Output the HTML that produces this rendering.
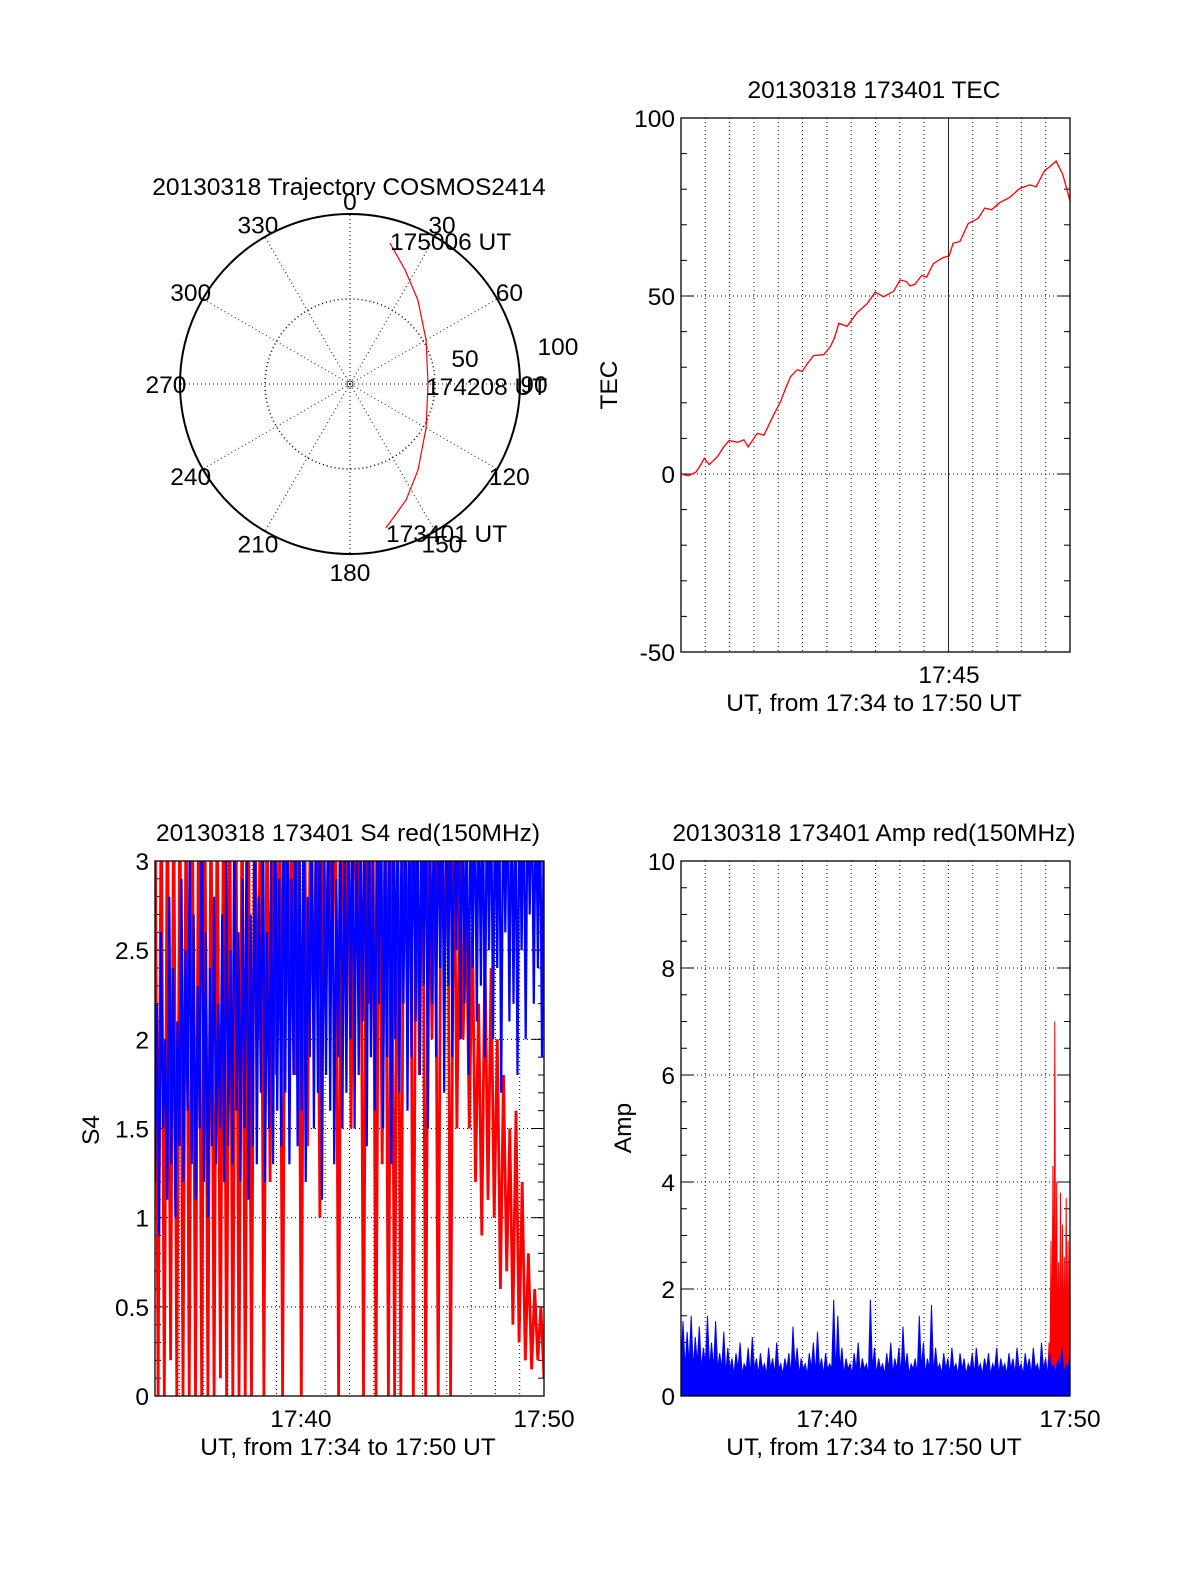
<!DOCTYPE html>
<html><head><meta charset="utf-8"><style>
html,body{margin:0;padding:0;background:#fff}
svg{display:block;font-family:"Liberation Sans",Arial,sans-serif}
</style></head><body>
<svg id="fig" width="1200" height="1575" viewBox="0 0 1200 1575" xmlns="http://www.w3.org/2000/svg"></svg>
<script>
// ---------- DATA ----------
const trajAz = [15.8, 25.8, 39, 60, 90, 120, 141.7, 154.2, 166];
const trajR  = [86.2, 74.5, 63.5, 51.7, 45.9, 51.7, 64.5, 75.8, 87.3];
const polarAngleLabels = [0,30,60,90,120,150,180,210,240,270,300,330];

const tecTime = [0,0.3,0.61,0.8,0.96,1.16,1.5,1.75,1.98,2.32,2.59,2.76,3.14,3.41,3.55,3.8,4.1,4.3,4.5,4.78,4.98,5.2,5.46,5.87,6.14,6.3,6.49,6.83,7.24,7.65,7.99,8.33,8.74,9.01,9.26,9.42,9.62,9.9,10.1,10.38,10.78,11.03,11.19,11.47,11.81,12.22,12.49,12.77,13.11,13.52,13.93,14.34,14.61,14.95,15.2,15.43,15.7,16];
const tecVal  = [0,-0.5,0.5,2.5,4.4,2.6,4.9,7.5,9.4,8.9,9.6,7.6,11.4,10.9,12.9,16.5,20.4,24,27.3,29.3,28.8,31,33.3,33.5,35.8,38,42.3,41.5,45.3,47.8,51.1,49.8,51.3,54.5,54.1,52.8,53.3,55.8,55.3,59.1,60.8,61.3,64.8,65.3,70.3,71.8,74.7,74.2,76.2,77.7,80.2,81.2,80.7,85.2,86.5,87.9,84.2,76.7];
const tecTicks = [-50,0,50,100];

const s4Red = [3.5,0,3.5,0,3.5,0.2,3.5,0,3.5,0,3.5,0,3.5,0,3.5,0,3.5,0,3.5,0,3.5,0.1,3.5,0,3.5,0,3.5,0,
 3.5,0,3.5,0,3.5,2.0,3.5,0,3.5,1.2,3.5,1.8,3.5,0,3.5,2.2,3.5,1.8,3.5,0,3.5,1.4,3.5,2.0,3.5,1.0,3.5,2.3,
 3.5,2.5,3.5,0,3.5,2.4,3.5,1.5,3.5,2.6,3.5,0,3.5,2.2,3.5,0,3.5,1.3,3.5,0,3.5,0,3.5,0,3.5,2.3,3.5,0,3.5,1.8,3.5,0,3.5,2.0,
 3.5,0,3.5,2.4,3.5,0,3.5,1.5,3.0,2.0,2.8,1.5,2.6,1.2,2.2,0.9,2.5,1.1,2.4,1.0,2.0,0.6,1.8,0.7,1.5,0.4,1.6,0.3,1.2,0.2,0.8,0.15,0.6,0.2,0.5,0.1];
const s4Blue = [1.2,2.2,0.9,2.6,1.5,2.0,1.1,2.8,1.3,2.4,1.0,2.1,1.4,2.9,1.2,2.5,1.6,3.0,1.3,2.7,1.1,2.3,1.5,3.5,1.2,2.6,1.0,2.4,1.4,2.8,1.3,2.2,
 1.5,2.7,1.2,3.0,1.4,2.5,1.3,3.5,1.6,2.6,1.2,2.9,1.5,3.2,1.1,2.7,1.4,3.5,1.3,2.8,1.7,3.5,1.2,2.6,1.5,3.0,1.3,3.5,1.6,2.9,1.4,3.5,
 1.7,3.5,1.3,2.9,1.8,3.5,1.4,3.1,1.6,3.5,1.2,2.8,1.9,3.5,1.5,3.3,1.7,3.5,1.1,3.0,1.8,3.5,1.6,3.5,1.3,2.9,1.9,3.5,1.5,3.2,1.7,3.5,
 2.0,3.5,1.5,3.5,1.8,3.2,2.1,3.5,1.4,3.5,1.9,3.0,1.6,3.5,2.2,3.5,1.5,3.3,1.9,3.5,1.3,3.5,2.0,3.5,1.7,3.1,2.2,3.5,1.6,3.5,1.9,3.5,
 2.1,3.5,1.8,3.5,2.3,3.5,1.5,3.4,2.2,3.5,1.9,3.5,2.4,3.5,1.7,3.5,2.3,3.5,1.9,3.5,2.5,3.5,2.0,3.5,2.2,3.5,1.8,3.5,2.4,3.5,2.1,3.5,
 2.3,3.5,1.9,3.5,2.5,3.5,2.0,3.5,2.4,3.5,1.7,3.5,2.6,3.5,2.1,3.5,2.2,3.5,1.8,3.5,2.5,3.5,2.0,3.5,2.7,3.5,2.2,3.5,2.4,3.5,1.9,3.5];
const s4Ticks = [0,0.5,1,1.5,2,2.5,3];

const ampBlue = [0.6,1.4,0.5,1.2,0.6,1.5,0.5,1.1,0.6,1.3,0.5,0.9,0.6,1.5,0.5,1.0,0.5,1.4,0.5,0.8,0.5,1.2,0.4,0.9,0.5,0.7,0.4,0.8,0.5,1.0,0.4,0.6,
 0.5,0.9,0.4,1.1,0.5,0.7,0.4,0.8,0.5,0.6,0.4,0.9,0.5,0.7,0.4,1.0,0.5,0.6,0.4,0.7,0.5,0.8,0.4,1.3,0.5,0.9,0.4,0.7,0.5,0.6,0.4,0.8,
 0.5,1.0,0.4,1.2,0.5,0.7,0.4,0.8,0.5,0.6,0.5,1.8,0.4,1.5,0.5,0.9,0.4,0.7,0.5,0.6,0.4,0.8,0.5,1.0,0.4,0.7,0.5,0.6,0.4,1.8,0.5,0.9,
 0.4,0.7,0.5,0.6,0.4,0.8,0.5,1.0,0.4,0.7,0.5,0.9,0.4,1.3,0.5,0.8,0.4,0.6,0.5,0.7,0.4,1.5,0.5,1.0,0.4,0.7,0.5,1.7,0.4,0.9,0.5,0.6,
 0.4,0.8,0.5,0.7,0.4,0.9,0.5,0.6,0.4,0.8,0.5,0.7,0.4,0.6,0.5,0.8,0.4,0.9,0.5,0.6,0.4,0.7,0.5,0.8,0.4,0.6,0.5,0.9,0.4,0.7,0.5,0.6,
 0.4,0.8,0.5,0.7,0.4,0.9,0.5,0.6,0.4,0.8,0.5,0.7,0.4,0.9,0.5,0.6,0.4,1.0,0.5,0.7,0.4,0.8,0.5,0.6,0.4,0.7,0.5,0.9,0.4,0.6,0.5,0.8];
const ampRed = [0.6,1.0,0.5,2.9,0.6,4.3,0.8,7.0,0.5,4.0,0.9,2.5,0.6,3.8,0.5,3.2,1.0,2.6,0.6,3.7,0.8,2.9,0.5,3.2];
const ampRedStart = 15.1, ampRedEnd = 16;
const ampTicks = [0,2,4,6,8,10];

// ---------- DRAW ----------
const FS = 24.5;
const NS = "http://www.w3.org/2000/svg";
const svg = document.getElementById('fig');
function el(tag, attrs, parent){
  const e = document.createElementNS(NS, tag);
  for (const k in attrs) e.setAttribute(k, attrs[k]);
  (parent||svg).appendChild(e); return e;
}
function txt(x,y,s,size,anchor,parent){
  const t = el('text',{x:x,y:y,'font-size':size,'text-anchor':anchor||'middle',fill:'#000'},parent);
  t.textContent = s; return t;
}

function panel(name, L, R, T, B, ymin, ymax, yticks, minorStep){
  const g = el('g',{});
  
  
  const xs = t => L + (t/16)*(R-L);
  const ys = v => B - (v-ymin)/(ymax-ymin)*(B-T);
  for (let m=1;m<16;m++){
    const l = el('line',{x1:xs(m),x2:xs(m),y1:T,y2:B,stroke:'#000','stroke-width':1,'stroke-dasharray':'1,3'},g);
    
    
  }
  yticks.forEach(v=>{
    if (v===ymin||v===ymax) return;
    const l = el('line',{x1:L,x2:R,y1:ys(v),y2:ys(v),stroke:'#000','stroke-width':1,'stroke-dasharray':'1,3'},g);
    
    
  });
  for (let v=ymin; v<=ymax+1e-9; v+=minorStep){
    el('line',{x1:L,x2:L+6,y1:ys(v),y2:ys(v),stroke:'#000'},g);
    el('line',{x1:R,x2:R-6,y1:ys(v),y2:ys(v),stroke:'#000'},g);
  }
  yticks.forEach(v=>{
    el('line',{x1:L,x2:L+12,y1:ys(v),y2:ys(v),stroke:'#000'},g);
    el('line',{x1:R,x2:R-12,y1:ys(v),y2:ys(v),stroke:'#000'},g);
    const t = txt(L-6, ys(v)+9, String(v), FS, 'end', g);
    
    
  });
  return {g, xs, ys, L, R, T, B};
}
function frame(p){
  const r = el('rect',{x:p.L,y:p.T,width:p.R-p.L,height:p.B-p.T,fill:'none',stroke:'#000','stroke-width':1.3},p.g);
  
  
}
function clip(id,p){
  const cp = el('clipPath',{id:id});
  el('rect',{x:p.L,y:p.T,width:p.R-p.L,height:p.B-p.T},cp);
}

// ---- Polar ----
(function(){
  const cx=350, cy=384, R=170;
  const g = el('g',{});
  
  
  const t0 = txt(349,195,'20130318 Trajectory COSMOS2414',FS,'middle',g);
  
  
  polarAngleLabels.forEach(a=>{
    const rad=a*Math.PI/180;
    el('line',{x1:cx,y1:cy,x2:cx+R*Math.sin(rad),y2:cy-R*Math.cos(rad),stroke:'#000','stroke-dasharray':'1,3'},g);
    const lr = R+14;
    let lx = cx+lr*Math.sin(rad), ly = cy-lr*Math.cos(rad)+9;
    if (a===0) ly = cy-R-4;
    if (a===180) ly = cy+R+27;
    const t = txt(lx,ly,String(a),FS,'middle',g);
    
    
  });
  el('circle',{cx:cx,cy:cy,r:R/2,fill:'none',stroke:'#000','stroke-dasharray':'1,3','stroke-width':1.5},g);
  const c = el('circle',{cx:cx,cy:cy,r:R,fill:'none',stroke:'#000','stroke-width':2},g);
  
  
  el('circle',{cx:cx,cy:cy,r:3,fill:'none',stroke:'#000','stroke-width':0.8},g);
  txt(465,367,'50',FS,'middle',g);
  txt(558,355,'100',FS,'middle',g);
  const pts = trajAz.map((a,i)=>{const rad=a*Math.PI/180, r=trajR[i]/100*R; return (cx+r*Math.sin(rad)).toFixed(1)+','+(cy-r*Math.cos(rad)).toFixed(1);});
  const pl = el('polyline',{points:pts.join(' '),fill:'none',stroke:'#f00','stroke-width':1.2},g);
  
  
  const a1=txt(390,250,'175006 UT',FS,'start',g);
  
  
  const a2=txt(426,395,'174208 UT',FS,'start',g);
  
  
  const a3=txt(386,542,'173401 UT',FS,'start',g);
  
  
})();

// ---- TEC ----
(function(){
  const p = panel('tec-plot',681,1070,118,652,-50,100,tecTicks,10);
  clip('cTec',p);
  el('line',{x1:p.xs(11),x2:p.xs(11),y1:p.T,y2:p.B,stroke:'#000','stroke-width':0.8},p.g);
  const pts = tecTime.map((t,i)=>p.xs(t).toFixed(1)+','+p.ys(tecVal[i]).toFixed(1)).join(' ');
  const pl = el('polyline',{points:pts,fill:'none',stroke:'#f00','stroke-width':1.3,'clip-path':'url(#cTec)'},p.g);
  
  
  frame(p);
  const t=txt(874,98,'20130318 173401 TEC',FS,'middle',p.g);
  
  
  const xl=txt(949,683,'17:45',FS,'middle',p.g);
  
  
  const xt=txt(874,711,'UT, from 17:34 to 17:50 UT',FS,'middle',p.g);
  
  
  const yt=txt(0,0,'TEC',FS,'middle',p.g);
  yt.setAttribute('transform','translate(617,385) rotate(-90)');
  
  
})();

// ---- S4 ----
(function(){
  const p = panel('s4-plot',155,544,861,1396,0,3,s4Ticks,0.1);
  clip('cS4',p);
  const xsr = i => p.xs(i*16/(s4Red.length-1));
  const xsb = i => p.xs(i*16/(s4Blue.length-1));
  const r = el('polyline',{points:s4Red.map((v,i)=>xsr(i).toFixed(1)+','+p.ys(v).toFixed(1)).join(' '),fill:'none',stroke:'#f00','stroke-width':2.8,'clip-path':'url(#cS4)'},p.g);
  
  
  const b = el('polyline',{points:s4Blue.map((v,i)=>xsb(i).toFixed(1)+','+p.ys(v).toFixed(1)).join(' '),fill:'none',stroke:'#00f','stroke-width':2.2,'clip-path':'url(#cS4)'},p.g);
  
  
  frame(p);
  const t=txt(348,841,'20130318 173401 S4 red(150MHz)',FS,'middle',p.g);
  
  
  [[6,'17:40'],[16,'17:50']].forEach(([m,s])=>{
    const xl=txt(p.xs(m),1427,s,FS,'middle',p.g);
    
    
  });
  const xt=txt(348,1455,'UT, from 17:34 to 17:50 UT',FS,'middle',p.g);
  
  
  const yt=txt(0,0,'S4',FS,'middle',p.g);
  yt.setAttribute('transform','translate(99,1130) rotate(-90)');
  
  
})();

// ---- Amp ----
(function(){
  const p = panel('amp-plot',681,1070,861,1396,0,10,ampTicks,0.5);
  clip('cAmp',p);
  const rx = i => p.xs(ampRedStart + i*(ampRedEnd-ampRedStart)/(ampRed.length-1));
  const rp = [p.xs(ampRedStart).toFixed(1)+','+p.ys(0)].concat(ampRed.map((v,i)=>rx(i).toFixed(1)+','+p.ys(v).toFixed(1))).concat([p.xs(ampRedEnd)+','+p.ys(0)]);
  const r = el('polygon',{points:rp.join(' '),fill:'#f00',stroke:'#f00','stroke-width':1,'clip-path':'url(#cAmp)'},p.g);
  
  
  const bx = i => p.xs(i*16/(ampBlue.length-1));
  const bp = [p.xs(0)+','+p.ys(0)].concat(ampBlue.map((v,i)=>bx(i).toFixed(1)+','+p.ys(v).toFixed(1))).concat([p.xs(16)+','+p.ys(0)]);
  const b = el('polygon',{points:bp.join(' '),fill:'#00f',stroke:'#00f','stroke-width':1,'clip-path':'url(#cAmp)'},p.g);
  
  
  frame(p);
  const t=txt(874,841,'20130318 173401 Amp red(150MHz)',FS,'middle',p.g);
  
  
  [[6,'17:40'],[16,'17:50']].forEach(([m,s])=>{
    const xl=txt(p.xs(m),1427,s,FS,'middle',p.g);
    
    
  });
  const xt=txt(874,1455,'UT, from 17:34 to 17:50 UT',FS,'middle',p.g);
  
  
  const yt=txt(0,0,'Amp',FS,'middle',p.g);
  yt.setAttribute('transform','translate(631,1128) rotate(-90)');
  
  
})();
</script>
</body></html>
